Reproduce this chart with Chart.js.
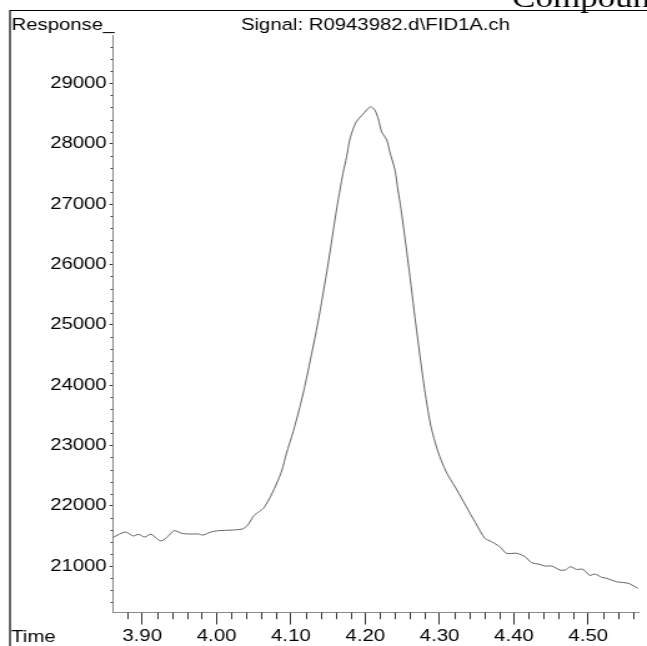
<!DOCTYPE html>
<html><head><meta charset="utf-8">
<script src="https://cdn.jsdelivr.net/npm/chart.js@4.4.1/dist/chart.umd.min.js"></script>
<style>
html,body{margin:0;padding:0;background:#fff;overflow:hidden;}
#wrap{position:absolute;left:0;top:0;width:518px;height:646px;transform:scaleX(1.249);transform-origin:0 0;}
canvas{display:block;}
</style></head><body>
<div id="wrap"><canvas id="c" width="518" height="646"></canvas></div>
<script>
// Retention time (min)
const times = [3.861,3.877,3.888,3.895,3.903,3.912,3.922,3.927,3.934,3.943,3.953,3.964,3.975,3.982,3.991,4.002,4.022,4.036,4.043,4.050,4.057,4.063,4.070,4.080,4.088,4.094,4.103,4.111,4.119,4.136,4.150,4.162,4.166,4.170,4.175,4.179,4.184,4.188,4.197,4.207,4.213,4.218,4.222,4.229,4.233,4.240,4.244,4.248,4.258,4.268,4.279,4.288,4.298,4.309,4.321,4.331,4.341,4.350,4.361,4.370,4.381,4.390,4.404,4.415,4.424,4.433,4.442,4.451,4.462,4.469,4.476,4.484,4.493,4.502,4.509,4.518,4.525,4.538,4.554,4.567];
// FID response
const response = [21476,21564,21498,21526,21481,21526,21431,21420,21486,21586,21542,21531,21531,21514,21559,21586,21597,21619,21697,21834,21900,21956,22094,22343,22591,22868,23226,23586,24000,25012,26006,26955,27232,27508,27784,28060,28254,28364,28491,28612,28557,28392,28198,28060,27866,27563,27232,26928,26006,25012,24000,23337,22890,22558,22310,22094,21874,21680,21459,21403,21320,21211,21211,21155,21055,21033,21000,21000,20934,20934,20989,20945,20945,20846,20868,20813,20796,20740,20713,20630];
const xTickLabels = [3.90,4.00,4.10,4.20,4.30,4.40,4.50];
const yTickLabels = [21000,22000,23000,24000,25000,26000,27000,28000,29000];
const xMinorStep = 0.02;
const yMinorStep = 200;
const xRange = [3.8602, 4.5673];
const yRange = [20230, 29790];
const titleText = 'Signal: R0943982.d\\FID1A.ch';
const yAxisTitle = 'Response_';
const xAxisTitle = 'Time';
const cornerText = 'Compound';

const FONT = '"Liberation Sans", Arial, Helvetica, sans-serif';

const decor = {
  id: 'decor',
  afterDraw(chart) {
    const ctx = chart.ctx;
    const xs = chart.scales.x, ys = chart.scales.y;
    ctx.save();
    ctx.strokeStyle = '#333';
    ctx.lineWidth = 1;
    ctx.beginPath();
    for (let k = Math.ceil(xs.min / xMinorStep - 1e-6); k * xMinorStep <= xs.max + 1e-9; k++) {
      const v = k * xMinorStep;
      if (Math.abs(v * 10 - Math.round(v * 10)) < 1e-6) continue;
      const px = Math.round(xs.getPixelForValue(v)) + 0.5;
      ctx.moveTo(px, xs.top);
      ctx.lineTo(px, xs.top + 6.7);
    }
    for (let k = Math.ceil(ys.min / yMinorStep - 1e-6); k * yMinorStep <= ys.max + 1e-9; k++) {
      const v = k * yMinorStep;
      if (v % 1000 === 0) continue;
      const py = Math.round(ys.getPixelForValue(v)) + 0.5;
      ctx.moveTo(ys.right, py);
      ctx.lineTo(ys.right - 1.6, py);
    }
    ctx.stroke();
    // frame
    ctx.strokeStyle = '#000';
    ctx.lineWidth = 1.2;
    ctx.beginPath();
    ctx.moveTo(8, 646);
    ctx.lineTo(8, 10.5);
    ctx.lineTo(518, 10.5);
    ctx.stroke();
    // texts
    ctx.fillStyle = '#000';
    ctx.font = '16.3px ' + FONT;
    ctx.textBaseline = 'alphabetic';
    ctx.textAlign = 'left';
    ctx.fillText(yAxisTitle, 9.2, 29.5);
    ctx.fillText(xAxisTitle, 9.0, 641.8);
    ctx.textAlign = 'center';
    ctx.fillText(titleText, (chart.chartArea.left + chart.chartArea.right) / 2, 29.5);
    ctx.textAlign = 'left';
    ctx.font = '28px "Liberation Serif", "Times New Roman", serif';
    ctx.fillText(cornerText, 410, 7);
    ctx.restore();
  }
};

new Chart(document.getElementById('c'), {
  type: 'line',
  data: {
    datasets: [{
      data: times.map((t, i) => ({x: t, y: response[i]})),
      borderColor: '#505050',
      borderWidth: 0.9,
      pointRadius: 0,
      tension: 0.25,
      fill: false
    }]
  },
  options: {
    responsive: false,
    animation: false,
    devicePixelRatio: 1,
    layout: {padding: {top: 35.7, right: 7, left: 0, bottom: 0}},
    plugins: {legend: {display: false}, tooltip: {enabled: false}, title: {display: false}},
    scales: {
      x: {
        type: 'linear',
        min: xRange[0], max: xRange[1],
        afterBuildTicks: s => { s.ticks = xTickLabels.map(v => ({value: v})); },
        afterFit: s => { s.height = 33.5; },
        grid: {drawOnChartArea: false, drawTicks: true, tickLength: 12, tickColor: '#333', tickWidth: 1},
        border: {display: true, color: '#8a8a8a', width: 1},
        ticks: {autoSkip: false, maxRotation: 0, padding: 2, color: '#000',
          font: {family: FONT, size: 16.3},
          callback: v => Number(v).toFixed(2)}
      },
      y: {
        type: 'linear',
        min: yRange[0], max: yRange[1],
        afterBuildTicks: s => { s.ticks = yTickLabels.map(v => ({value: v})); },
        afterFit: s => { s.width = 90.2; },
        grid: {drawOnChartArea: false, drawTicks: true, tickLength: 2.5, tickColor: '#333', tickWidth: 1},
        border: {display: true, color: '#8a8a8a', width: 1},
        ticks: {autoSkip: false, padding: 2.3, color: '#000',
          font: {family: FONT, size: 16.3},
          callback: v => String(v)}
      }
    }
  },
  plugins: [decor]
});
</script>
</body></html>
